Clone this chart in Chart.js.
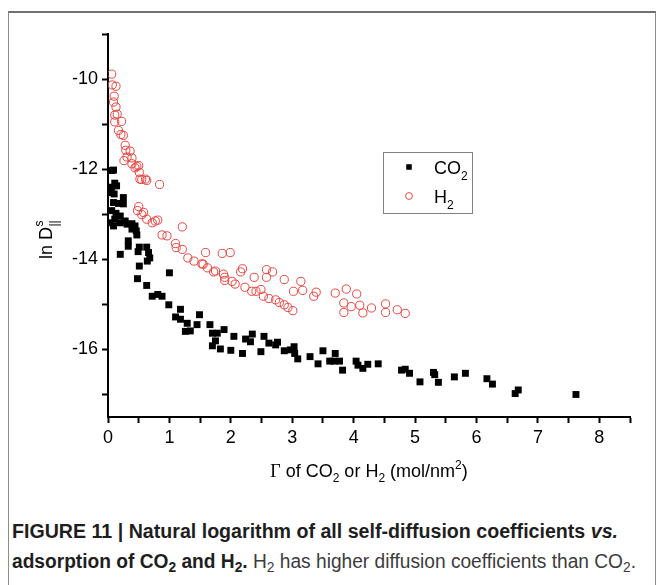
<!DOCTYPE html>
<html><head><meta charset="utf-8">
<script src="https://cdn.jsdelivr.net/npm/chart.js@4.4.0/dist/chart.umd.min.js"></script>
<style>
html,body{margin:0;padding:0;background:#fff;}
#wrap{position:relative;width:662px;height:585px;overflow:hidden;background:#fff;}
#frame{position:absolute;left:8px;top:11px;width:648px;height:620px;border:1px solid #8c8c8c;border-top:2px solid #707070;box-sizing:border-box;}
#cv{position:absolute;left:0;top:0;}
.cap{position:absolute;left:12px;white-space:nowrap;font-family:"Liberation Sans Narrow","Liberation Sans",Arial,sans-serif;font-size:19.5px;line-height:22px;color:#1e1e1e;transform-origin:0 50%;}
.cap b{font-weight:bold;}
.cap .n{color:#3c3c3c;font-weight:normal}
.cap sub{font-size:72%;vertical-align:-0.28em;line-height:0}
</style></head>
<body>
<div id="wrap">
<div id="frame"></div>
<canvas id="cv" width="662" height="500"></canvas>
<div class="cap" id="cap1" style="top:520px"><b>FIGURE 11 | Natural logarithm of all self-diffusion coefficients <i>vs.</i></b></div>
<div class="cap" id="cap2" style="top:550px"><b>adsorption of CO<sub>2</sub> and H<sub>2</sub>.</b> <span class="n">H<sub>2</sub> has higher diffusion coefficients than CO<sub>2</sub>.</span></div>
</div>
<script>
// ---- data ----
const co2X = [0.09,0.06,0.11,0.06,0.14,0.03,0.10,0.25,0.09,0.17,0.25,0.06,0.13,0.20,0.11,0.03,0.09,0.20,0.28,0.31,0.39,0.44,0.39,0.46,0.47,0.33,0.33,0.51,0.63,0.49,0.66,0.68,0.64,0.20,0.51,1.00,0.48,0.63,0.72,0.81,0.88,0.99,1.18,1.10,1.18,1.29,1.26,1.34,1.45,1.49,1.66,1.70,1.78,1.89,1.70,1.83,2.00,1.75,2.05,2.19,2.24,2.35,2.32,2.49,2.54,2.62,2.76,2.73,2.87,2.97,3.03,3.04,3.09,3.29,3.42,3.50,3.61,3.70,3.68,3.77,3.82,4.04,4.07,4.15,4.23,4.40,4.78,4.84,4.91,5.08,5.30,5.32,5.38,5.64,5.82,6.17,6.26,6.63,6.68,7.62];
const co2Y = [-12.02,-12.03,-12.31,-12.40,-12.37,-12.52,-12.55,-12.63,-12.74,-12.76,-12.77,-12.92,-12.98,-13.04,-13.11,-13.19,-13.26,-13.19,-13.15,-13.22,-13.21,-13.26,-13.33,-13.37,-13.46,-13.59,-13.71,-13.73,-13.73,-13.83,-13.85,-13.97,-14.04,-13.89,-14.15,-14.30,-14.43,-14.58,-14.82,-14.78,-14.82,-15.01,-15.11,-15.28,-15.33,-15.42,-15.60,-15.59,-15.45,-15.23,-15.45,-15.64,-15.64,-15.56,-15.92,-15.99,-16.02,-15.81,-15.71,-16.09,-15.77,-15.66,-15.83,-16.05,-15.71,-15.86,-15.84,-15.90,-16.03,-16.01,-15.94,-16.09,-16.21,-16.16,-16.32,-16.03,-16.26,-16.09,-16.26,-16.26,-16.46,-16.26,-16.35,-16.42,-16.33,-16.32,-16.46,-16.44,-16.53,-16.72,-16.51,-16.56,-16.73,-16.61,-16.53,-16.65,-16.77,-16.98,-16.90,-17.00];
const h2X = [0.06,0.07,0.13,0.10,0.09,0.13,0.11,0.15,0.22,0.11,0.17,0.21,0.25,0.28,0.29,0.36,0.31,0.26,0.39,0.39,0.44,0.47,0.50,0.51,0.52,0.55,0.61,0.63,0.84,0.50,0.48,0.58,0.55,0.63,0.72,0.77,0.81,1.21,0.88,0.96,1.10,1.11,1.21,1.30,1.40,1.53,1.59,1.62,1.55,1.72,1.75,1.86,1.99,1.88,1.90,1.90,2.02,2.07,2.19,2.16,2.38,2.23,2.34,2.41,2.49,2.58,2.68,2.58,2.53,2.62,2.73,2.79,2.87,2.93,3.01,2.87,3.14,3.02,3.17,3.39,3.35,3.70,3.88,3.84,3.84,3.96,4.10,4.05,4.15,4.29,4.52,4.52,4.71,4.84];
const h2Y = [-9.89,-10.13,-10.16,-10.38,-10.51,-10.62,-10.80,-10.78,-10.94,-10.95,-11.14,-11.23,-11.25,-11.47,-11.58,-11.60,-11.73,-11.81,-11.75,-11.88,-11.97,-11.94,-11.92,-12.07,-12.22,-12.23,-12.22,-12.25,-12.34,-12.83,-12.92,-12.96,-13.01,-13.11,-13.19,-13.15,-13.13,-13.28,-13.46,-13.48,-13.65,-13.74,-13.78,-13.97,-14.04,-14.10,-13.85,-14.19,-14.11,-14.28,-14.26,-13.87,-13.85,-14.33,-14.40,-14.47,-14.49,-14.55,-14.21,-14.28,-14.40,-14.62,-14.71,-14.71,-14.67,-14.23,-14.28,-14.40,-14.82,-14.87,-14.90,-14.96,-15.01,-15.07,-15.14,-14.45,-14.49,-14.71,-14.69,-14.73,-14.82,-14.75,-14.66,-14.97,-15.18,-15.05,-15.02,-14.77,-15.19,-15.08,-14.99,-15.18,-15.12,-15.20];
const seriesNames = ['CO2','H2'];
const xTickLabels = ['0','1','2','3','4','5','6','7','8'];
const yTickLabels = ['-10','-12','-14','-16'];

const FONT = '"Liberation Sans", Arial, sans-serif';
const RED = 'rgb(232,70,64)';

function drawRich(ctx, segs, x, y, align) {
  let w = 0;
  segs.forEach(s => { ctx.font = s.font; s.w = ctx.measureText(s.t).width; w += s.w + (s.gap||0); });
  let cx = align === 'center' ? x - w / 2 : x;
  segs.forEach(s => { ctx.font = s.font; ctx.fillText(s.t, cx + (s.gap||0), y + (s.dy || 0)); cx += s.w + (s.gap||0); });
  return w;
}

const titlesPlugin = {
  id: 'titles',
  afterDraw(chart) {
    const ctx = chart.ctx;
    const xs = chart.scales.x;
    ctx.save();
    ctx.fillStyle = '#000';
    ctx.textBaseline = 'alphabetic';
    // x title
    const cx = (xs.left + xs.right) / 2;
    const big = '18px ' + FONT, small = '12px ' + FONT;
    drawRich(ctx, [
      {t: '\u0393', font: '18px "Liberation Serif", serif'},
      {t: ' of CO', font: big},
      {t: '2', font: small, dy: 5},
      {t: ' or H', font: big},
      {t: '2', font: small, dy: 5},
      {t: ' (mol/nm', font: big},
      {t: '2', font: small, dy: -8},
      {t: ')', font: big}
    ], cx, 477, 'center');
    // y title (rotated)
    ctx.translate(52, 240);
    ctx.rotate(-Math.PI / 2);
    ctx.font = big;
    const w1 = ctx.measureText('ln D').width;
    ctx.font = small;
    const w2 = ctx.measureText('s').width;
    const total = w1 + w2;
    let sx = -total / 2;
    ctx.font = big; ctx.fillText('ln D', sx, 0);
    ctx.font = small; ctx.fillText('s', sx + w1 + 0.5, -9);
    ctx.fillText('||', sx + w1 + 0.5, 6);
    ctx.restore();
  }
};

const legendPlugin = {
  id: 'boxLegend',
  afterDraw(chart) {
    const ctx = chart.ctx;
    ctx.save();
    ctx.strokeStyle = '#808080';
    ctx.lineWidth = 1;
    ctx.strokeRect(383.5, 152.5, 89, 61);
    const items = [
      {ds: chart.data.datasets[1], y: 167, name: 'CO'},
      {ds: chart.data.datasets[0], y: 196, name: 'H'}
    ];
    items.forEach(it => {
      ctx.fillStyle = it.ds.backgroundColor;
      ctx.strokeStyle = it.ds.borderColor;
      ctx.lineWidth = it.ds.borderWidth;
      Chart.helpers.drawPoint(ctx, {pointStyle: it.ds.pointStyle, radius: it.ds.pointStyle === 'rect' ? 3.6 : 3.4, borderWidth: it.ds.borderWidth}, 409, it.y);
      if (it.ds.pointStyle === 'rect') ctx.fill();
      ctx.fillStyle = '#000';
      ctx.textBaseline = 'alphabetic';
      drawRich(ctx, [
        {t: it.name, font: '18px ' + FONT},
        {t: '2', font: '12px ' + FONT, dy: 6}
      ], 434, it.y + 6.5, 'left');
    });
    ctx.restore();
  }
};

const ctx = document.getElementById('cv').getContext('2d');
new Chart(ctx, {
  type: 'scatter',
  data: {
    datasets: [
      {
        label: seriesNames[1],
        data: h2X.map((x, i) => ({x: x, y: h2Y[i]})),
        pointStyle: 'circle', pointRadius: 4.1, pointHoverRadius: 4.1,
        backgroundColor: 'rgba(255,255,255,0)', borderColor: RED, borderWidth: 1,
        order: 0
      },
      {
        label: seriesNames[0],
        data: co2X.map((x, i) => ({x: x, y: co2Y[i]})),
        pointStyle: 'rect', pointRadius: 4.9, pointHoverRadius: 4.9,
        backgroundColor: '#000', borderColor: '#000', borderWidth: 0,
        order: 1
      }
    ]
  },
  options: {
    responsive: false, animation: false, devicePixelRatio: 1,
    layout: {padding: {left: 0, top: 34, right: 32, bottom: 0}},
    plugins: {legend: {display: false}, tooltip: {enabled: false}},
    scales: {
      x: {
        type: 'linear', min: 0, max: 8.5,
        afterFit(s) { s.height = 83; },
        ticks: {
          stepSize: 0.5, autoSkip: false, maxRotation: 0, minRotation: 0, color: '#000', padding: 4,
          font: {family: FONT, size: 18},
          callback: v => { const i = xTickLabels.indexOf(String(v)); return i >= 0 ? xTickLabels[i] : ''; }
        },
        grid: {drawOnChartArea: false, drawTicks: true, tickLength: 6, tickColor: '#000', tickWidth: 2},
        border: {display: true, color: '#000', width: 2}
      },
      y: {
        type: 'linear', min: -17.5, max: -9,
        afterFit(s) { s.width = 108; },
        ticks: {
          stepSize: 1, includeBounds: false, autoSkip: false, color: '#000', padding: 4,
          font: {family: FONT, size: 18},
          callback: v => { const i = yTickLabels.indexOf(String(v)); return i >= 0 ? yTickLabels[i] : ''; }
        },
        grid: {drawOnChartArea: false, drawTicks: true, tickLength: 6, tickColor: '#000', tickWidth: 2},
        border: {display: true, color: '#000', width: 2}
      }
    }
  },
  plugins: [titlesPlugin, legendPlugin]
});

// fit caption lines to the reference widths
function fit(id, target) {
  const el = document.getElementById(id);
  const w = el.getBoundingClientRect().width;
  el.style.transform = 'scaleX(' + (target / w) + ')';
}
fit('cap1', 606);
fit('cap2', 624);
</script>
</body></html>
